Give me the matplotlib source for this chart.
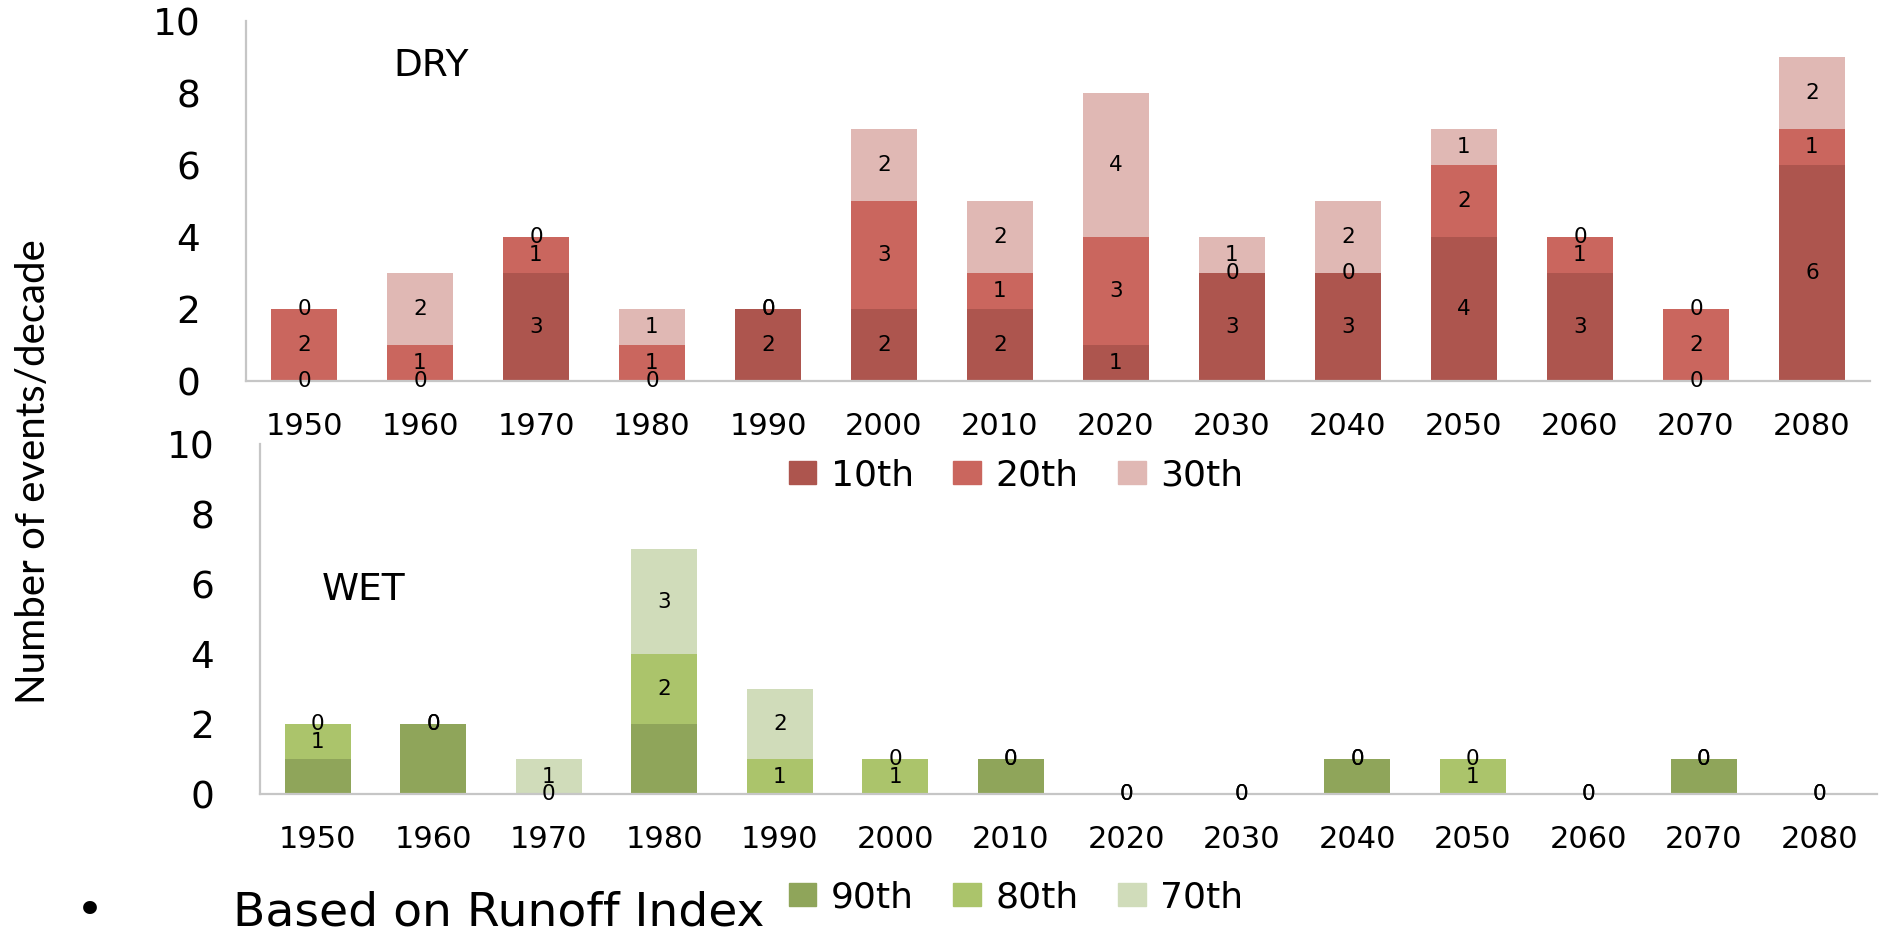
import numpy as np
import matplotlib.pyplot as plt
from matplotlib.patches import Patch

decades = ['1950', '1960', '1970', '1980', '1990', '2000', '2010',
           '2020', '2030', '2040', '2050', '2060', '2070', '2080']

# dry events per decade (percentile thresholds)
dry_10 = [0, 0, 3, 0, 2, 2, 2, 1, 3, 3, 4, 3, 0, 6]
dry_20 = [2, 1, 1, 1, 0, 3, 1, 3, 0, 0, 2, 1, 2, 1]
dry_30 = [0, 2, 0, 1, 0, 2, 2, 4, 1, 2, 1, 0, 0, 2]

# wet events per decade
wet_90 = [1, 2, 0, 2, 0, 0, 1, 0, 0, 1, 0, 0, 1, 0]
wet_80 = [1, 0, 0, 2, 1, 1, 0, 0, 0, 0, 1, 0, 0, 0]
wet_70 = [0, 0, 1, 3, 2, 0, 0, 0, 0, 0, 0, 0, 0, 0]

dry_colors = ['#AD554E', '#CA665E', '#E0B8B4']
wet_colors = ['#8FA55A', '#ABC46B', '#D0DCBA']
axis_grey = '#C6C6C6'

plt.rcParams['font.family'] = 'DejaVu Sans'

fig = plt.figure(figsize=(18.79, 9.38), dpi=100)
ax1 = fig.add_axes([0.1309, 0.5938, 0.8643, 0.3838])
ax2 = fig.add_axes([0.1384, 0.1535, 0.8606, 0.3731])

x = np.arange(len(decades))
w = 0.57


def style(ax):
    ax.set_xlim(-0.5, len(decades) - 0.5)
    ax.set_ylim(0, 10)
    ax.set_yticks([0, 2, 4, 6, 8, 10])
    ax.set_xticks(x)
    ax.set_xticklabels(decades, fontsize=22)
    ax.tick_params(axis='x', length=0, pad=22)
    ax.tick_params(axis='y', length=0, pad=33, labelsize=27)
    for s in ['top', 'right']:
        ax.spines[s].set_visible(False)
    for s in ['left', 'bottom']:
        ax.spines[s].set_color(axis_grey)
        ax.spines[s].set_linewidth(1.6)


# DRY panel
b1 = ax1.bar(x, dry_10, w, color=dry_colors[0], zorder=2)
b2 = ax1.bar(x, dry_20, w, bottom=dry_10, color=dry_colors[1], zorder=2)
bot = np.array(dry_10) + np.array(dry_20)
b3 = ax1.bar(x, dry_30, w, bottom=bot, color=dry_colors[2], zorder=2)
for b in [b1, b2, b3]:
    ax1.bar_label(b, fmt='%d', label_type='center', fontsize=15.5)
style(ax1)
ax1.text(0.2092, 0.9296, 'DRY', transform=fig.transFigure, fontsize=27,
         ha='left', va='center')

# WET panel (90th has no labels)
c1 = ax2.bar(x, wet_90, w, color=wet_colors[0], zorder=2)
c2 = ax2.bar(x, wet_80, w, bottom=wet_90, color=wet_colors[1], zorder=2)
bot = np.array(wet_90) + np.array(wet_80)
c3 = ax2.bar(x, wet_70, w, bottom=bot, color=wet_colors[2], zorder=2)
for b in [c2, c3]:
    ax2.bar_label(b, fmt='%d', label_type='center', fontsize=15.5)
style(ax2)
ax2.text(0.1714, 0.371, 'WET', transform=fig.transFigure, fontsize=27,
         ha='left', va='center')

leg_kw = dict(loc='center', ncol=3, frameon=False, fontsize=26,
              handlelength=0.76, handleheight=0.62, handletextpad=0.4,
              columnspacing=1.1)
fig.legend([Patch(color=c) for c in dry_colors], ['10th', '20th', '30th'],
           bbox_to_anchor=(0.5407, 0.4936), **leg_kw)
fig.legend([Patch(color=c) for c in wet_colors], ['90th', '80th', '70th'],
           bbox_to_anchor=(0.5407, 0.0437), **leg_kw)

fig.text(0.0176, 0.4968, 'Number of events/decade', rotation=90,
         ha='center', va='center', fontsize=29, family='Lato')

fig.text(90 / 1879, 3 / 938, '\u2022', fontsize=34, ha='center', va='bottom')
fig.text(233 / 1879, 3 / 938, 'Based on Runoff Index', fontsize=34,
         ha='left', va='bottom')

plt.savefig('out.png', dpi=100)
